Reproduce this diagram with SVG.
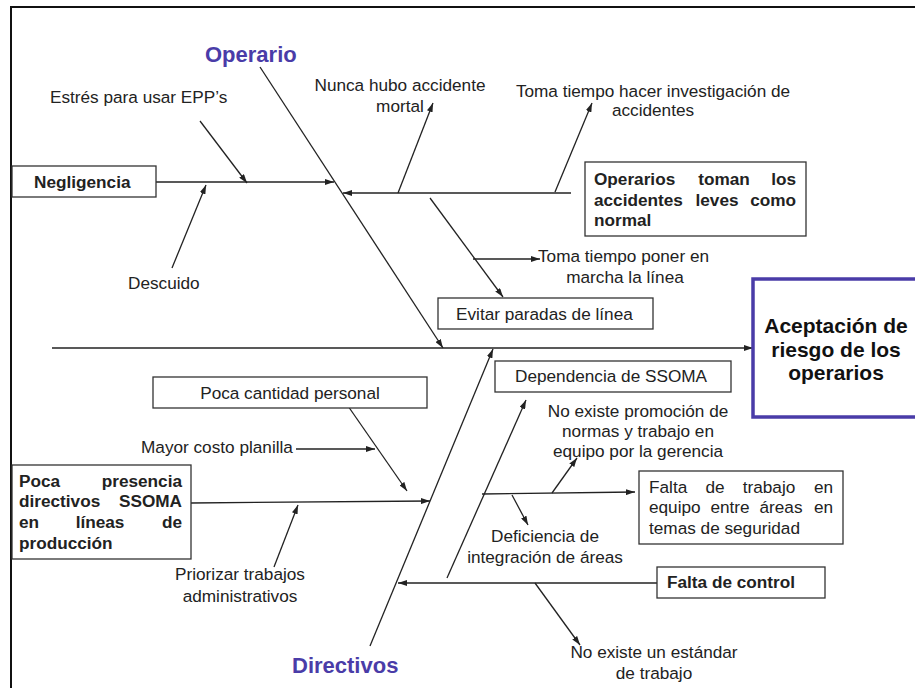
<svg xmlns="http://www.w3.org/2000/svg" width="915" height="688" viewBox="0 0 915 688">
  <defs>
    <marker id="arrow" viewBox="0 0 9 6" refX="9" refY="3" markerWidth="9" markerHeight="6" markerUnits="userSpaceOnUse" orient="auto">
      <path d="M0,0 L9,3 L0,6 z" fill="#222"/>
    </marker>
    <style>
      .frame { fill: none; stroke: #111; stroke-width: 2; }
      .box { fill: #fff; stroke: #333; stroke-width: 1.3; }
      .effect { fill: #fff; stroke: #4a3ca8; stroke-width: 3.5; }
      .con { fill: none; stroke: #222; stroke-width: 1.3; marker-end: url(#arrow); }
      .plain { fill: none; stroke: #222; stroke-width: 1.3; }
      text { font-family: "Liberation Sans", Arial, sans-serif; font-size: 17.2px; fill: #222; }
      .b { font-weight: bold; }
      .cat { font-size: 22px; font-weight: bold; fill: #4a3ca8; }
      .head { font-size: 21px; font-weight: bold; fill: #111; }
      .mid { text-anchor: middle; }
      .end { text-anchor: end; }
    </style>
  </defs>

  <rect width="915" height="688" fill="#fff"/>
  <path class="frame" d="M11,690 V7 H916"/>

  <!-- connectors -->
  <g id="connectors">
    <path class="con" d="M52,348 L753,348"/>
    <path class="con" d="M260,67 L443,348"/>
    <path class="con" d="M156,182 L334,182"/>
    <path class="con" d="M200,121 L247,183"/>
    <path class="con" d="M172,268 L206,185"/>
    <path class="con" d="M571,193 L343,193"/>
    <path class="con" d="M398,193 L433,103"/>
    <path class="con" d="M555,192 L592,103"/>
    <path class="con" d="M430,198 L503,297"/>
    <path class="con" d="M473,259 L540,259"/>
    <path class="con" d="M370,646 L493,349"/>
    <path class="con" d="M348,406 L407,491"/>
    <path class="con" d="M296,449 L375,449"/>
    <path class="con" d="M191,503 L430,501"/>
    <path class="con" d="M274,567 L298,505"/>
    <path class="con" d="M657,583 L398,583"/>
    <path class="con" d="M447,578 L526,400"/>
    <path class="con" d="M482,494 L635,492"/>
    <path class="con" d="M552,493 L577,458"/>
    <path class="con" d="M512,495 L528,525"/>
    <path class="con" d="M535,583 L580,645"/>
  </g>

  <!-- category headings -->
  <g id="cat-operario"><text class="cat" x="205" y="62">Operario</text></g>
  <g id="cat-directivos"><text class="cat" x="292" y="673">Directivos</text></g>

  <!-- effect -->
  <g id="effect">
    <rect class="effect" x="753" y="279" width="180" height="138"/>
    <text class="head mid" x="836" y="333">Aceptación de</text>
    <text class="head mid" x="836" y="357">riesgo de los</text>
    <text class="head mid" x="836" y="380">operarios</text>
  </g>

  <!-- Operario side -->
  <g id="negligencia">
    <rect class="box" x="12" y="166" width="144" height="31"/>
    <text class="b" x="34" y="188">Negligencia</text>
  </g>
  <g id="estres"><text x="50" y="103">Estrés para usar EPP’s</text></g>
  <g id="descuido"><text x="128" y="289">Descuido</text></g>
  <g id="nunca-hubo">
    <text class="mid" x="400" y="91">Nunca hubo accidente</text>
    <text class="mid" x="400" y="112">mortal</text>
  </g>
  <g id="toma-investigacion">
    <text class="mid" x="653" y="97">Toma tiempo hacer investigación de</text>
    <text class="mid" x="653" y="116">accidentes</text>
  </g>
  <g id="operarios-toman">
    <rect class="box" x="585" y="162" width="221" height="74"/>
    <text class="b" x="594" y="185">Operarios</text>
    <text class="b mid" x="724" y="185">toman</text>
    <text class="b end" x="796" y="185">los</text>
    <text class="b" x="594" y="206">accidentes</text>
    <text class="b mid" x="717" y="206">leves</text>
    <text class="b end" x="796" y="206">como</text>
    <text class="b" x="594" y="226">normal</text>
  </g>
  <g id="toma-poner">
    <text x="538" y="262">Toma tiempo poner en</text>
    <text class="mid" x="625" y="283">marcha la línea</text>
  </g>
  <g id="evitar-paradas">
    <rect class="box" x="438" y="298" width="215" height="31"/>
    <text x="456" y="320">Evitar paradas de línea</text>
  </g>

  <!-- Directivos side -->
  <g id="poca-cantidad">
    <rect class="box" x="153" y="377" width="274" height="31"/>
    <text class="mid" x="290" y="399">Poca cantidad personal</text>
  </g>
  <g id="mayor-costo"><text x="141" y="453">Mayor costo planilla</text></g>
  <g id="poca-presencia">
    <rect class="box" x="12" y="465" width="179" height="94"/>
    <text class="b" x="19" y="487">Poca</text>
    <text class="b end" x="182" y="487">presencia</text>
    <text class="b" x="19" y="507">directivos</text>
    <text class="b end" x="182" y="507">SSOMA</text>
    <text class="b" x="19" y="528">en</text>
    <text class="b mid" x="100" y="528">líneas</text>
    <text class="b end" x="182" y="528">de</text>
    <text class="b" x="19" y="549">producción</text>
  </g>
  <g id="priorizar">
    <text class="mid" x="240" y="580">Priorizar trabajos</text>
    <text class="mid" x="240" y="602">administrativos</text>
  </g>
  <g id="dependencia">
    <rect class="box" x="495" y="361" width="236" height="31"/>
    <text x="515" y="382">Dependencia de SSOMA</text>
  </g>
  <g id="no-promocion">
    <text class="mid" x="638" y="417">No existe promoción de</text>
    <text class="mid" x="638" y="437">normas y trabajo en</text>
    <text class="mid" x="638" y="457">equipo por la gerencia</text>
  </g>
  <g id="falta-trabajo">
    <rect class="box" x="639" y="471" width="204" height="73"/>
    <text x="649" y="493">Falta</text>
    <text class="mid" x="715" y="493">de</text>
    <text class="mid" x="769" y="493">trabajo</text>
    <text class="end" x="833" y="493">en</text>
    <text x="649" y="513">equipo</text>
    <text class="mid" x="730" y="513">entre</text>
    <text class="mid" x="781" y="513">áreas</text>
    <text class="end" x="833" y="513">en</text>
    <text x="649" y="534">temas de seguridad</text>
  </g>
  <g id="deficiencia">
    <text class="mid" x="545" y="542">Deficiencia de</text>
    <text class="mid" x="545" y="563">integración de áreas</text>
  </g>
  <g id="falta-control">
    <rect class="box" x="657" y="567" width="168" height="31"/>
    <text class="b" x="667" y="588">Falta de control</text>
  </g>
  <g id="no-estandar">
    <text class="mid" x="654" y="658">No existe un estándar</text>
    <text class="mid" x="654" y="679">de trabajo</text>
  </g>
</svg>
